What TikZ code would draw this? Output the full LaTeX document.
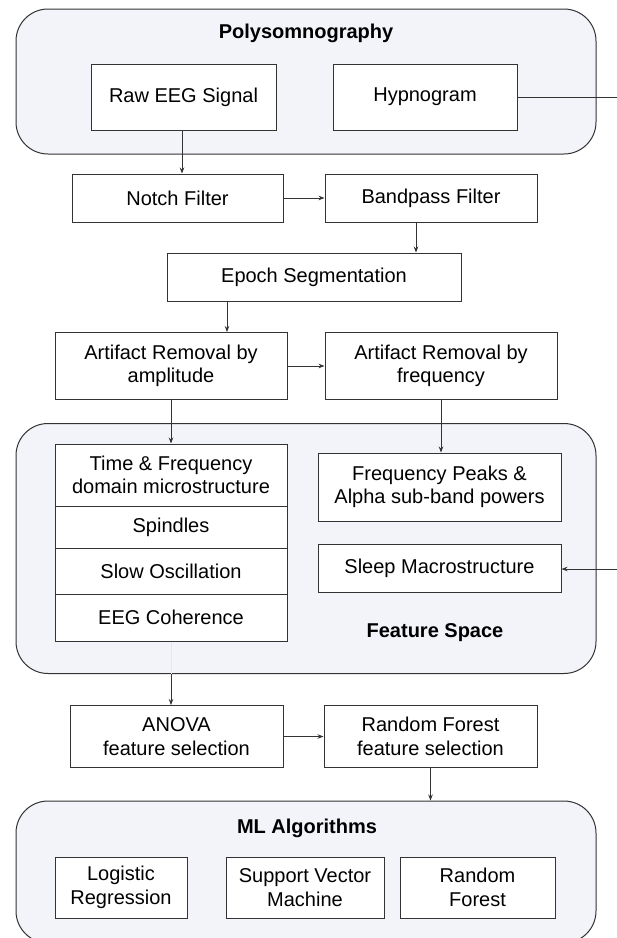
\documentclass[tikz,border=0pt]{standalone}
\usepackage{fontspec}
\setmainfont{Liberation Sans}
\usepackage{xcolor}
\usetikzlibrary{arrows.meta}
\definecolor{groupblue}{HTML}{F2F4FA}
\definecolor{edgegray}{HTML}{333333}

\begin{document}
\begin{tikzpicture}[x=1pt, y=-1pt,
    groupstyle/.style={draw=edgegray, fill=groupblue, line width=1pt, rounded corners=32pt, inner sep=0pt},
    boxstyle/.style={draw=edgegray, fill=white, line width=1pt, align=center, inner sep=0pt,
      font=\fontsize{20}{23.5}\selectfont},
    titlestyle/.style={font=\bfseries\fontsize{20}{23.5}\selectfont, inner sep=0pt},
    linkstyle/.style={-{Stealth[length=6pt, width=4.5pt]}, edgegray, line width=0.8pt}]
  \useasboundingbox (0,0) rectangle (617,938);

  % groups
  \node[groupstyle, minimum width=580, minimum height=145] (polygrp) at (306,81.5) {};
  \node[groupstyle, minimum width=580, minimum height=250] (featgrp) at (306,548.5) {};
  \node[groupstyle, minimum width=580, minimum height=142] (mlgrp) at (306,872) {};
  \node[titlestyle] (polytitle) at (306,33) {Polysomnography};
  \node[titlestyle] (feattitle) at (435,633) {Feature Space};
  \node[titlestyle] (mltitle) at (307,828) {ML Algorithms};

  % preprocessing
  \node[boxstyle, minimum width=185, minimum height=66] (raw) at (183.5,97) {Raw EEG Signal};
  \node[boxstyle, minimum width=184, minimum height=66] (hypno) at (425,97) {Hypnogram};
  \node[boxstyle, minimum width=211, minimum height=48] (notch) at (177.5,198) {Notch Filter};
  \node[boxstyle, minimum width=212, minimum height=48] (bandpass) at (431,198) {Bandpass Filter};
  \node[boxstyle, minimum width=294, minimum height=48] (epoch) at (314,277) {Epoch Segmentation};
  \node[boxstyle, minimum width=232, minimum height=67] (ampl) at (171,366) {Artifact Removal by\\amplitude};
  \node[boxstyle, minimum width=232, minimum height=67] (freq) at (441,366) {Artifact Removal by\\frequency};

  % features
  \node[boxstyle, minimum width=232, minimum height=62] (tfdom) at (171,475) {Time \& Frequency\\domain microstructure};
  \node[boxstyle, minimum width=232, minimum height=42] (spindles) at (171,527) {Spindles};
  \node[boxstyle, minimum width=232, minimum height=46] (slowosc) at (171,571) {Slow Oscillation};
  \node[boxstyle, minimum width=232, minimum height=47] (coherence) at (171,617.5) {EEG Coherence};
  \node[boxstyle, minimum width=243, minimum height=68] (peaks) at (439.5,487) {Frequency Peaks \&\\Alpha sub-band powers};
  \node[boxstyle, minimum width=243, minimum height=48] (macro) at (439.5,568) {Sleep Macrostructure};

  % selection and models
  \node[boxstyle, minimum width=213, minimum height=62] (anova) at (176.5,736.5) {ANOVA\\feature selection};
  \node[boxstyle, minimum width=213, minimum height=62] (rfsel) at (430.5,736.5) {Random Forest\\feature selection};
  \node[boxstyle, minimum width=132, minimum height=61] (logreg) at (121,887.5) {Logistic\\Regression};
  \node[boxstyle, minimum width=158, minimum height=61] (svm) at (305,887.5) {Support Vector\\Machine};
  \node[boxstyle, minimum width=155, minimum height=61] (rforest) at (477.5,887.5) {Random\\Forest};

  \coordinate (hypout) at (617,97);
  \coordinate (macroin) at (617,569);

  \draw[edgegray, line width=0.8pt] (hypno.east |- hypout) -- (hypout);
  \draw[linkstyle] (macroin) -- (macroin -| macro.east);
  \draw[linkstyle] (raw.south -| 182,0) -- (notch.north -| 182,0);
  \draw[linkstyle] (notch) -- (bandpass);
  \draw[linkstyle] (bandpass.south -| 416,0) -- (epoch.north -| 416,0);
  \draw[linkstyle] (epoch.south -| 227,0) -- (ampl.north -| 227,0);
  \draw[linkstyle] (ampl) -- (freq);
  \draw[linkstyle] (ampl) -- (tfdom);
  \draw[linkstyle] (freq) -- (freq |- peaks.north);
  \draw[edgegray!12, line width=0.8pt] (coherence) -- (coherence |- featgrp.south);
  \draw[linkstyle] (featgrp.south -| coherence) -- (coherence |- anova.north);
  \draw[linkstyle] (anova) -- (rfsel);
  \draw[linkstyle] (rfsel) -- (rfsel |- mlgrp.north);
\end{tikzpicture}
\end{document}
